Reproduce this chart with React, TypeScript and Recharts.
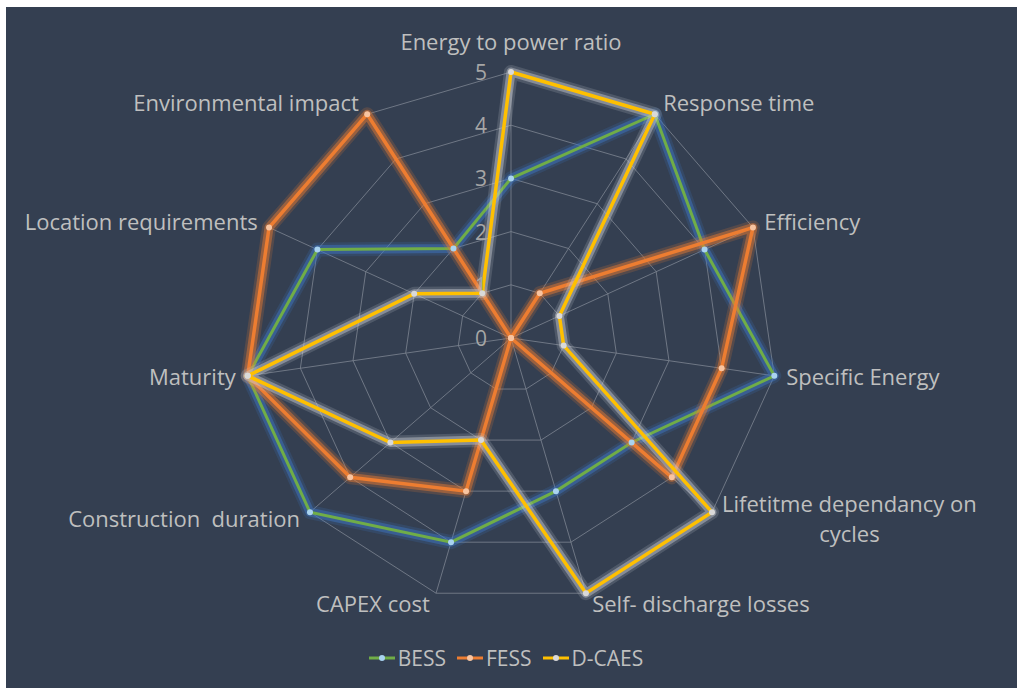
import React from 'react';
import { RadarChart, Radar, PolarGrid, PolarAngleAxis, PolarRadiusAxis, Legend } from 'recharts';

const criteria = [
  'Energy to power ratio',
  'Response time',
  'Efficiency',
  'Specific Energy',
  'Lifetitme dependancy on cycles',
  'Self- discharge losses',
  'CAPEX cost',
  'Construction  duration',
  'Maturity',
  'Location requirements',
  'Environmental impact',
];
const bess = [3, 5, 4, 5, 3, 3, 4, 5, 5, 4, 2];
const fess = [0, 1, 5, 4, 4, 0, 3, 4, 5, 5, 5];
const dcaes = [5, 5, 1, 1, 5, 5, 2, 3, 5, 2, 1];
const radiusTicks = [0, 1, 2, 3, 4, 5];

const data = criteria.map((c, i) => ({
  criterion: c,
  BESS: bess[i],
  FESS: fess[i],
  'D-CAES': dcaes[i],
}));

const series = [
  { key: 'BESS', color: '#70AD47', glow: '#3F78C8', dot: '#A9D3F0', width: 3 },
  { key: 'FESS', color: '#ED7D31', glow: '#ED7D31', dot: '#F8C4A0', width: 3.5 },
  { key: 'D-CAES', color: '#FFC000', glow: '#C9CCD2', dot: '#D9D9D9', width: 3.5 },
];

const W = 1011;
const H = 681;
const CX = 505;
const CY = 331;
const R = 266;
const FONT = '"Open Sans", sans-serif';
const FS = 22;
const TEXT = '#BFBFBF';

let measureCtx: CanvasRenderingContext2D | null = null;
const measure = (s: string) => {
  if (!measureCtx) {
    measureCtx = document.createElement('canvas').getContext('2d');
  }
  if (!measureCtx) return s.length * FS * 0.5;
  measureCtx.font = `${FS}px ${FONT}`;
  return measureCtx.measureText(s).width;
};

const wrap = (s: string, max: number) => {
  const words = s.split(' ');
  const lines: string[] = [];
  let cur = '';
  words.forEach((w) => {
    const next = cur ? cur + ' ' + w : w;
    if (cur && measure(next) > max) {
      lines.push(cur);
      cur = w;
    } else {
      cur = next;
    }
  });
  if (cur) lines.push(cur);
  return lines;
};

const AngleTick = (props: any) => {
  const { payload } = props;
  const rad = (payload.coordinate * Math.PI) / 180;
  const cos = Math.cos(rad);
  const sin = Math.sin(rad);
  const px = CX + (R + 8) * cos;
  const py = CY - (R + 8) * sin;
  const label: string = payload.value;
  const lines = wrap(label, 290);
  if (Math.abs(cos) < 0.01) {
    return (
      <text x={px} y={py - 23} textAnchor="middle" dominantBaseline="central" fontSize={FS} fontFamily={FONT} fill={TEXT} style={{ whiteSpace: 'pre' }}>
        {label}
      </text>
    );
  }
  const side = cos > 0 ? 1 : -1;
  const dy = -4 * sin - 2;
  if (lines.length > 1) {
    const w1 = measure(lines[0]);
    const mid = px + side * (4 + w1 / 2);
    const lh = 30;
    const top = py + dy - ((lines.length - 1) * lh) / 2;
    return (
      <text textAnchor="middle" dominantBaseline="central" fontSize={FS} fontFamily={FONT} fill={TEXT}>
        {lines.map((l, i) => (
          <tspan key={i} x={mid} y={top + i * lh}>
            {l}
          </tspan>
        ))}
      </text>
    );
  }
  return (
    <text
      x={px + side * 4}
      y={py + dy}
      textAnchor={side > 0 ? 'start' : 'end'}
      dominantBaseline="central"
      fontSize={FS}
      fontFamily={FONT}
      fill={TEXT}
      style={{ whiteSpace: 'pre' }}
    >
      {label}
    </text>
  );
};

const RadiusTick = (props: any) => {
  const { x, y, payload } = props;
  return (
    <text x={x - 30} y={y} textAnchor="middle" dominantBaseline="central" fontSize={21} fontFamily={FONT} fill="#A6A6A6">
      {payload.value}
    </text>
  );
};

const LegendContent = (props: any) => {
  const payload = props.payload || [];
  const items = series.filter((s) => payload.some((p: any) => p.value === s.key));
  return (
    <div style={{ display: 'flex', justifyContent: 'center', alignItems: 'center', fontFamily: FONT, fontSize: 21, color: TEXT }}>
      {items.map((s) => (
        <div key={s.key} style={{ display: 'flex', alignItems: 'center', marginRight: 11 }}>
          <svg width={26} height={12} style={{ marginRight: 3 }}>
            <line x1={0} y1={6} x2={26} y2={6} stroke={s.color} strokeWidth={3} />
            <circle cx={13} cy={6} r={3} fill={s.dot} />
          </svg>
          <span>{s.key}</span>
        </div>
      ))}
    </div>
  );
};

export default function App() {
  return (
    <div style={{ position: 'absolute', left: 6, top: 7, width: W, height: H, background: '#343F51' }}>
      <RadarChart width={W} height={H} data={data} cx={CX} cy={CY} outerRadius={R} margin={{ top: 0, right: 0, bottom: 0, left: 0 }}>
        <PolarGrid stroke="#7E8592" strokeWidth={0.8} />
        <PolarAngleAxis dataKey="criterion" tick={<AngleTick />} tickLine={false} axisLine={false} />
        <PolarRadiusAxis angle={90} domain={[0, 5]} ticks={radiusTicks as any} tickCount={6} axisLine={false} tick={<RadiusTick />} />
        {series.flatMap((s) => [
          <Radar
            key={s.key + '-glow2'}
            name={s.key + ' glow2'}
            dataKey={s.key}
            stroke={s.glow}
            strokeWidth={14}
            strokeOpacity={0.18}
            strokeLinejoin="round"
            fill="none"
            dot={false}
            legendType="none"
            isAnimationActive={false}
          />,
          <Radar
            key={s.key + '-glow'}
            name={s.key + ' glow'}
            dataKey={s.key}
            stroke={s.glow}
            strokeWidth={9}
            strokeOpacity={0.45}
            strokeLinejoin="round"
            fill="none"
            dot={false}
            legendType="none"
            isAnimationActive={false}
          />,
          <Radar
            key={s.key}
            name={s.key}
            dataKey={s.key}
            stroke={s.color}
            strokeWidth={s.width}
            fill="none"
            dot={{ r: 3, fill: s.dot, stroke: 'none' }}
            isAnimationActive={false}
          />,
        ])}
        <Legend content={<LegendContent />} wrapperStyle={{ top: 637, left: 0, width: W }} />
      </RadarChart>
    </div>
  );
}
